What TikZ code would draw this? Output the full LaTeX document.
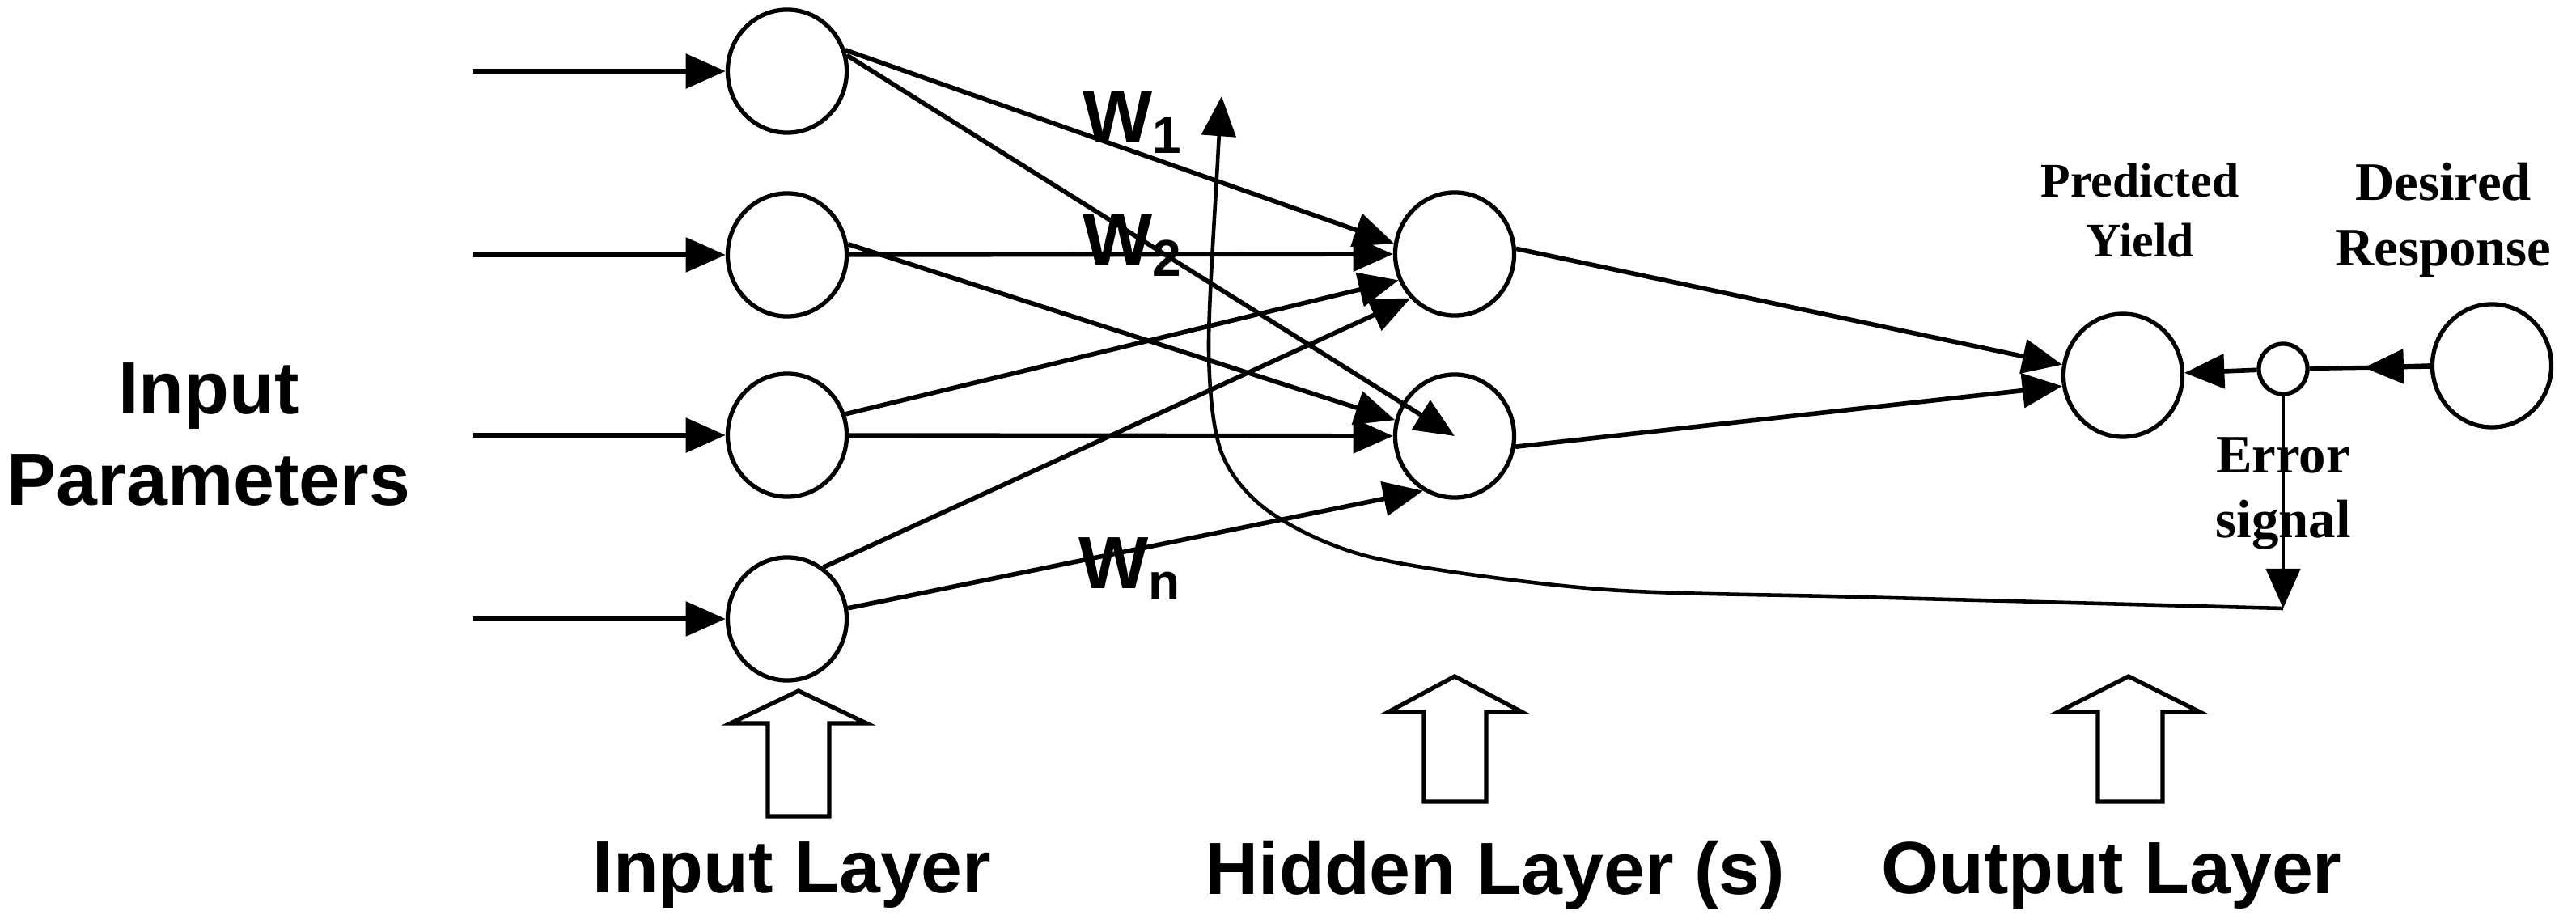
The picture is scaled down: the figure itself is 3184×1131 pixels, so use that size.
\documentclass[tikz,border=0pt]{standalone}
\usepackage{fontspec}
\setmainfont{Liberation Serif}
\newfontfamily\sansb{Liberation Sans}
\usetikzlibrary{shapes.geometric,arrows.meta}
\begin{document}
\begin{tikzpicture}[x=0.01cm,y=-0.01cm,
  neuron/.style={ellipse,draw,line width=1.5pt,minimum width=1.47cm,minimum height=1.52cm,inner sep=0pt},
  small/.style={ellipse,draw,line width=1.5pt,minimum width=0.6cm,minimum height=0.62cm,inner sep=0pt},
  con/.style={line width=1.6pt,-{Triangle[length=14pt,width=12pt]}},
  lab/.style={font=\sansb\bfseries\fontsize{26}{30}\selectfont,inner sep=0pt},
  serif/.style={font=\bfseries\fontsize{19}{23}\selectfont,inner sep=0pt,align=center},
  hollow/.style={draw,line width=1.5pt,fill=white}]
\useasboundingbox (0,0) rectangle (3184,1131);
% input nodes
\node[neuron] (i1) at (973,88) {};
\node[neuron] (i2) at (973,315) {};
\node[neuron] (i3) at (973,538) {};
\node[neuron] (i4) at (973,765) {};
\node[neuron] (h1) at (1798,314) {};
\node[neuron] (h2) at (1798,539) {};
\node[neuron] (o) at (2624,464) {};
\node[small] (s) at (2822,456) {};
\node[neuron] (d) at (3080,452) {};
% input arrows
\coordinate (a1) at (585,88);
\coordinate (a2) at (585,315);
\coordinate (a3) at (585,538);
\coordinate (a4) at (585,765);
\foreach \k in {1,2,3,4}{\draw[con] (a\k) -- (i\k);}
% input -> hidden
\draw[con] (i1.20) -- (h1.170);
\draw[con] (i1.15) -- (h2.center);
\draw[con] (i2) -- (h1);
\draw[con] (i2.10) -- (h2.165);
\draw[con] (i3.20) -- (h1.205);
\draw[con] (i3) -- (h2);
\draw[con] (i4.55) -- (h1.225);
\draw[con] (i4.10) -- (h2.240);
% hidden -> output
\draw[con] (h1.5) -- (o.170);
\draw[con] (h2.-10) -- (o.190);
% feedback
\draw[line width=1.5pt] (d) -- (s) coordinate[pos=0.55] (m1);
\draw[con] (d.west) -- (m1);
\draw[con] (s) -- (o);
\coordinate (eb) at (2822,752);
\draw[line width=1.3pt,-{Triangle[length=14pt,width=12pt]}] (s.south) -- (eb);
\draw[line width=1.3pt,-{Triangle[length=14pt,width=12pt]}] plot[smooth,tension=0.5] coordinates {(2822,752) (2300,738) (1974,728) (1700,690) (1571,634) (1510,560) (1494,433) (1505,200) (1510,119)};
% labels
\node[lab] (w1) at (1400,151) {W\textsubscript{1}};
\node[lab] (w2) at (1400,303) {W\textsubscript{2}};
\node[lab] (wn) at (1397,703) {W\textsubscript{n}};
\node[lab,align=center] (ip) at (258,537) {Input\\[2pt]Parameters};
\node[serif,font=\bfseries\fontsize{17}{21}\selectfont] (py) at (2645,260) {Predicted\\Yield};
\node[serif] (dr) at (3020,272) {Desired\\Response};
\node[serif] (es) at (2822,610) {Error\\signal};
% hollow arrows
\draw[hollow] (949,1009) -- (949,894) -- (903,894) -- (987,854) -- (1071,894) -- (1025,894) -- (1025,1009) -- cycle;
\draw[hollow] (1760,991) -- (1760,880) -- (1716,880) -- (1798,836) -- (1881,880) -- (1837,880) -- (1837,991) -- cycle;
\draw[hollow] (2593,991) -- (2593,880) -- (2544,880) -- (2631,836) -- (2719,880) -- (2673,880) -- (2673,991) -- cycle;
\node[lab] (il) at (979,1082) {Input Layer};
\node[lab] (hl) at (1848,1082) {Hidden Layer (s)};
\node[lab] (ol) at (2610,1082) {Output Layer};
\end{tikzpicture}
\end{document}
